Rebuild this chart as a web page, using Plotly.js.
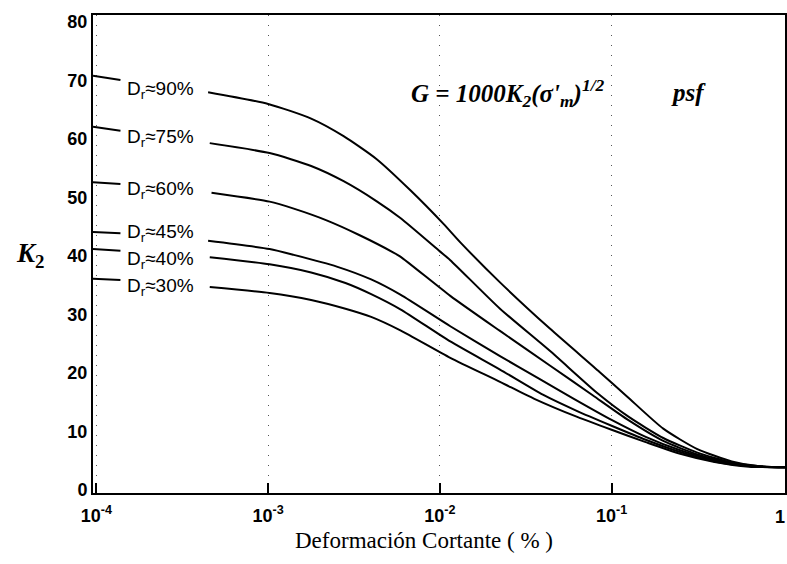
<!DOCTYPE html>
<html>
<head>
<meta charset="utf-8">
<script src="https://cdn.plot.ly/plotly-3.0.1.min.js"></script>
<style>html,body{margin:0;padding:0;background:#fff;}#chart{width:787px;height:564px;}</style>
</head>
<body>
<div id="chart"></div>
<script>
// Shear strain (%) and K2 values per relative density curve (null = gap for label)
const labels = ["D<sub>r</sub>≈90%", "D<sub>r</sub>≈75%", "D<sub>r</sub>≈60%", "D<sub>r</sub>≈45%", "D<sub>r</sub>≈40%", "D<sub>r</sub>≈30%"];
const labelY = [68.4, 60.2, 51.3, 43.9, 39.3, 34.7];

const x90 = [0.0000955, 0.000138, null, 0.000447, 0.001, 0.00178, 0.00275, 0.00427, 0.00676, 0.0105, 0.0132, 0.0224, 0.0437, 0.0851, 0.123, 0.2, 0.316, 0.501, 0.708, 1.023];
const k90 = [70.8, 70.1, null, 68.0, 66.0, 63.5, 60.5, 56.6, 51.2, 45.5, 42.3, 35.5, 27.6, 20.2, 16.0, 10.5, 7.0, 4.9, 4.1, 3.9];

const x75 = [0.0000955, 0.000138, null, 0.000457, 0.00102, 0.00178, 0.00275, 0.00427, 0.00589, 0.01, 0.0115, 0.0224, 0.0437, 0.0832, 0.126, 0.2, 0.316, 0.501, 0.708, 1.023];
const k75 = [62.1, 61.4, null, 59.3, 57.6, 55.4, 52.8, 49.4, 46.5, 40.8, 39.3, 31.0, 23.8, 16.5, 12.5, 8.9, 6.4, 4.7, 4.1, 3.9];

const x60 = [0.0000955, 0.000138, null, 0.000468, 0.00102, 0.00141, 0.00219, 0.00339, 0.00537, 0.00589, 0.0115, 0.0224, 0.0437, 0.0776, 0.126, 0.2, 0.316, 0.501, 0.708, 1.023];
const k60 = [52.6, 52.3, null, 50.8, 49.3, 48.1, 46.1, 43.6, 40.6, 39.9, 33.2, 27.2, 21.3, 16.2, 11.9, 8.4, 6.1, 4.6, 4.0, 3.9];

const x45 = [0.0000955, 0.000138, null, 0.000447, 0.00102, 0.00141, 0.00251, 0.00398, 0.00589, 0.0115, 0.0224, 0.038, 0.0603, 0.1, 0.158, 0.251, 0.398, 0.631, 1.023];
const k45 = [44.1, 43.9, null, 42.6, 41.2, 40.2, 38.2, 36.0, 33.4, 28.0, 22.9, 19.0, 15.6, 12.0, 9.1, 6.8, 5.1, 4.1, 3.9];

const x40 = [0.0000955, 0.000138, null, 0.000457, 0.00102, 0.00178, 0.00282, 0.00398, 0.00589, 0.0115, 0.0224, 0.0398, 0.0631, 0.1, 0.158, 0.251, 0.398, 0.631, 1.023];
const k40 = [41.2, 40.9, null, 39.8, 38.6, 37.2, 35.4, 33.5, 30.9, 25.4, 20.6, 16.3, 13.5, 11.0, 8.6, 6.5, 4.9, 4.1, 3.9];

const x30 = [0.0000955, 0.000138, null, 0.000457, 0.00102, 0.00178, 0.00282, 0.00398, 0.00589, 0.0115, 0.0224, 0.0355, 0.0631, 0.1, 0.158, 0.251, 0.398, 0.631, 1.023];
const k30 = [36.1, 35.9, null, 34.7, 33.7, 32.5, 31.0, 29.6, 27.3, 22.6, 18.5, 15.6, 12.5, 10.3, 8.2, 6.2, 4.8, 4.0, 3.9];

const xs = [x90, x75, x60, x45, x40, x30];
const ks = [k90, k75, k60, k45, k40, k30];

const xTickVals = [0.0001, 0.001, 0.01, 0.1];
const xTickText = ["10<sup>-4</sup>", "10<sup>-3</sup>", "10<sup>-2</sup>", "10<sup>-1</sup>"];
const xEndLabel = "1";
const yTickVals = [0, 10, 20, 30, 40, 50, 60, 70, 80];

const traces = xs.map((x, i) => ({
  x: x, y: ks[i], type: "scatter", mode: "lines",
  line: {color: "#000", width: 2, shape: "spline", smoothing: 0.6},
  connectgaps: false, hoverinfo: "skip", showlegend: false
}));

const sansFont = "Liberation Sans, Arial, sans-serif";
const serifFont = "Liberation Serif, Times New Roman, serif";

const annotations = labels.map((t, i) => ({
  text: t, xref: "paper", yref: "y", x: 0.046, y: labelY[i],
  xanchor: "left", yanchor: "middle", showarrow: false,
  font: {family: sansFont, size: 19, color: "#000"}
}));

annotations.push({
  text: "<b><i>G = 1000K<sub>2</sub>(σ'<sub>m</sub>)<sup>1/2</sup></i></b>",
  xref: "paper", yref: "paper", x: 0.6, y: 0.837, xanchor: "center", yanchor: "middle",
  showarrow: false, font: {family: serifFont, size: 25, color: "#000"}
});
annotations.push({
  text: "<b><i>psf</i></b>",
  xref: "paper", yref: "paper", x: 0.861, y: 0.837, xanchor: "center", yanchor: "middle",
  showarrow: false, font: {family: serifFont, size: 25, color: "#000"}
});
annotations.push({
  text: "<b><i>K</i></b><sub><b>2</b></sub>",
  xref: "paper", yref: "paper", x: -0.091, y: 0.498, xanchor: "center", yanchor: "middle",
  showarrow: false, font: {family: serifFont, size: 27, color: "#000"}
});
annotations.push({
  text: "Deformación Cortante ( % )",
  xref: "paper", yref: "paper", x: 0.478, y: -0.099, xanchor: "center", yanchor: "middle",
  showarrow: false, font: {family: serifFont, size: 23, color: "#000"}
});
annotations.push({
  text: "<b>" + xEndLabel + "</b>",
  xref: "paper", yref: "paper", x: 1.003, y: -0.05, xanchor: "right", yanchor: "middle",
  showarrow: false, font: {family: sansFont, size: 18, color: "#000"}
});

const layout = {
  width: 787, height: 564,
  margin: {l: 93, r: 2, t: 15, b: 71},
  paper_bgcolor: "#fff", plot_bgcolor: "#fff",
  xaxis: {
    type: "log", range: [-4.02, 0.01],
    tickvals: xTickVals, ticktext: xTickText,
    ticks: "inside", ticklen: 10, tickwidth: 2, tickcolor: "#000",
    ticklabelstandoff: 5,
    showline: true, linewidth: 2, linecolor: "#000", mirror: true,
    showgrid: true, gridcolor: "#555", gridwidth: 1, griddash: "1px,9px",
    zeroline: false,
    tickfont: {family: sansFont, size: 18, color: "#000", weight: "bold"}
  },
  yaxis: {
    range: [-0.5, 81.2],
    tickvals: yTickVals,
    ticks: "", showline: true, linewidth: 2, linecolor: "#000", mirror: true,
    showgrid: false, zeroline: false,
    tickfont: {family: sansFont, size: 18, color: "#000", weight: "bold"}
  },
  annotations: annotations
};

Plotly.newPlot("chart", traces, layout, {staticPlot: true, displayModeBar: false});
</script>
</body>
</html>
